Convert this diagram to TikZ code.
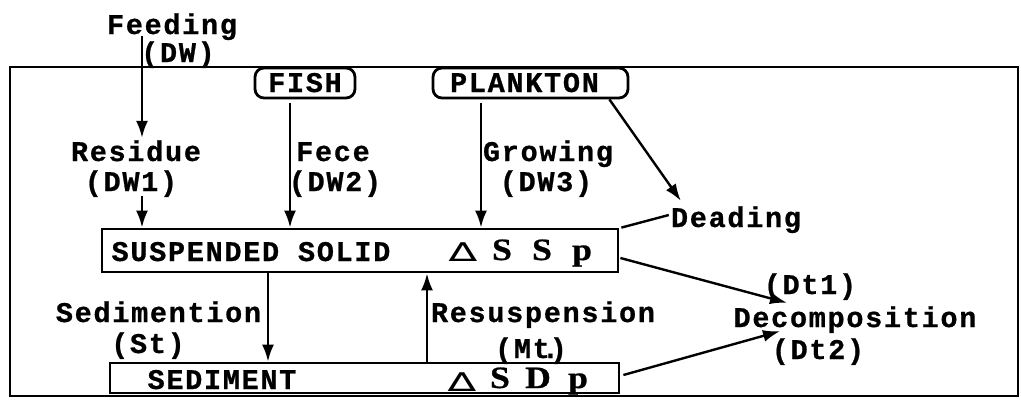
\documentclass[tikz,border=0pt]{standalone}
\usepackage{fontspec}
\setmainfont{Liberation Mono}[LetterSpace=6,BoldFeatures={FakeBold=0.8}]
\newfontfamily\serifb{Liberation Serif}[BoldFeatures={FakeBold=0.8}]
\newfontfamily\dejavu{DejaVu Sans}
\usetikzlibrary{arrows.meta}
\begin{document}
\begin{tikzpicture}[x=1pt,y=-1pt,
  lab/.style={inner sep=0pt, text height=18pt, text depth=0pt, font=\fontsize{28.5}{28.5}\selectfont\bfseries},
  sym/.style={inner sep=0pt, text height=20pt, text depth=0pt, font=\serifb\fontsize{31}{31}\selectfont\bfseries},
  tri/.style={inner sep=0pt, font=\dejavu\fontsize{29}{29}\selectfont\mdseries},
  arr/.style={line width=2.4pt, -{Latex[length=17pt,width=12pt]}},
  plain/.style={line width=2.4pt},
  boxs/.style={draw, line width=2.8pt, inner sep=0pt},
  org/.style={draw, line width=2.8pt, rounded corners=9pt, inner sep=0pt, text height=18pt, text depth=0pt, font=\fontsize{28.5}{28.5}\selectfont\bfseries}]
\useasboundingbox (0,0) rectangle (1021,400);
\draw[line width=2.4pt] (10,67) rectangle (1018,396);

% organism boxes
\node[org, minimum width=100pt, minimum height=30pt] (fish) at (305,83) {FISH};
\node[org, minimum width=195pt, minimum height=30pt] (plank) at (530.5,83) {PLANKTON\kern12pt};

% compartments
\node[boxs, minimum width=516pt, minimum height=43pt] (ss) at (360,250.5) {};
\node[boxs, minimum width=509pt, minimum height=30pt] (sed) at (364.5,378) {};
\node[lab] (sst) at (251,252) {SUSPENDED SOLID};
\node[tri] (t1) at (463,252) {\scalebox{1.45}[0.9]{∆}};
\node[sym] (s1) at (502,250) {\scalebox{1.15}[1]{S}};
\node[sym] (s2) at (542,250) {\scalebox{1.15}[1]{S}};
\node[sym] (p1) at (582,250) {\scalebox{1.15}[1]{p}};
\node[lab] (sedt) at (222,380) {SEDIMENT};
\node[tri] (t2) at (462,382) {\scalebox{1.45}[0.9]{∆}};
\node[sym] (s3) at (500,378) {\scalebox{1.15}[1]{S}};
\node[sym] (d1) at (538,378) {\scalebox{1.15}[1]{D}};
\node[sym] (p2) at (578,378) {\scalebox{1.15}[1]{p}};

% labels
\node[lab] (feed) at (172,25) {Feeding};
\node[lab] (dw) at (178,53) {(DW)};
\node[lab] (resid) at (136,152) {Residue};
\node[lab] (dwone) at (131,182) {(DW1)};
\node[lab] (fece) at (333,152) {Fece};
\node[lab] (dwtwo) at (335,182) {(DW2)};
\node[lab] (grow) at (548,152) {Growing};
\node[lab] (dwthree) at (546,182) {(DW3)};
\node[lab] (dead) at (736,218) {Deading};
\node[lab] (sedim) at (158.5,313) {Sedimention};
\node[lab] (st) at (148,344) {(St)};
\node[lab] (resus) at (543,313) {Resuspension};
\node[lab] (mt) at (531,349) {(Mt\rlap{\kern-8pt.})};
\node[lab] (dtone) at (810,285) {(Dt1)};
\node[lab] (dec) at (855,318) {Decomposition};
\node[lab] (dttwo) at (818,350) {(Dt2)};

% x positions of vertical flows
\coordinate (xa) at (142,0);
\coordinate (xf) at (290,0);
\coordinate (xg) at (481,0);
\coordinate (xs) at (268,0);
\coordinate (xr) at (427,0);

\draw[arr] ([yshift=-2pt]feed.south -| xa) -- ([yshift=5pt]resid.north -| xa);
\draw[arr] ([yshift=-5pt]dwone.south -| xa) -- (ss.north -| xa);
\draw[arr] ([yshift=-4pt]fish.south -| xf) -- (ss.north -| xf);
\draw[arr] ([yshift=-4pt]plank.south -| xg) -- (ss.north -| xg);
\draw[arr] (ss.south -| xs) -- (sed.north -| xs);
\draw[arr] (sed.north -| xr) -- (ss.south -| xr);
\draw[arr] ([xshift=-20pt]plank.south east) -- ([xshift=10pt,yshift=8pt]dead.north west);
\draw[plain] ([xshift=2pt]ss.north east) -- ([xshift=-2pt,yshift=3pt]dead.west);
\draw[arr] ([xshift=1pt,yshift=-7.5pt]ss.east) -- ([xshift=-68pt,yshift=6pt]dec.north);
\draw[arr] ([xshift=3pt,yshift=3pt]sed.east) -- ([xshift=-75pt,yshift=-4pt]dec.south);
\end{tikzpicture}
\end{document}
